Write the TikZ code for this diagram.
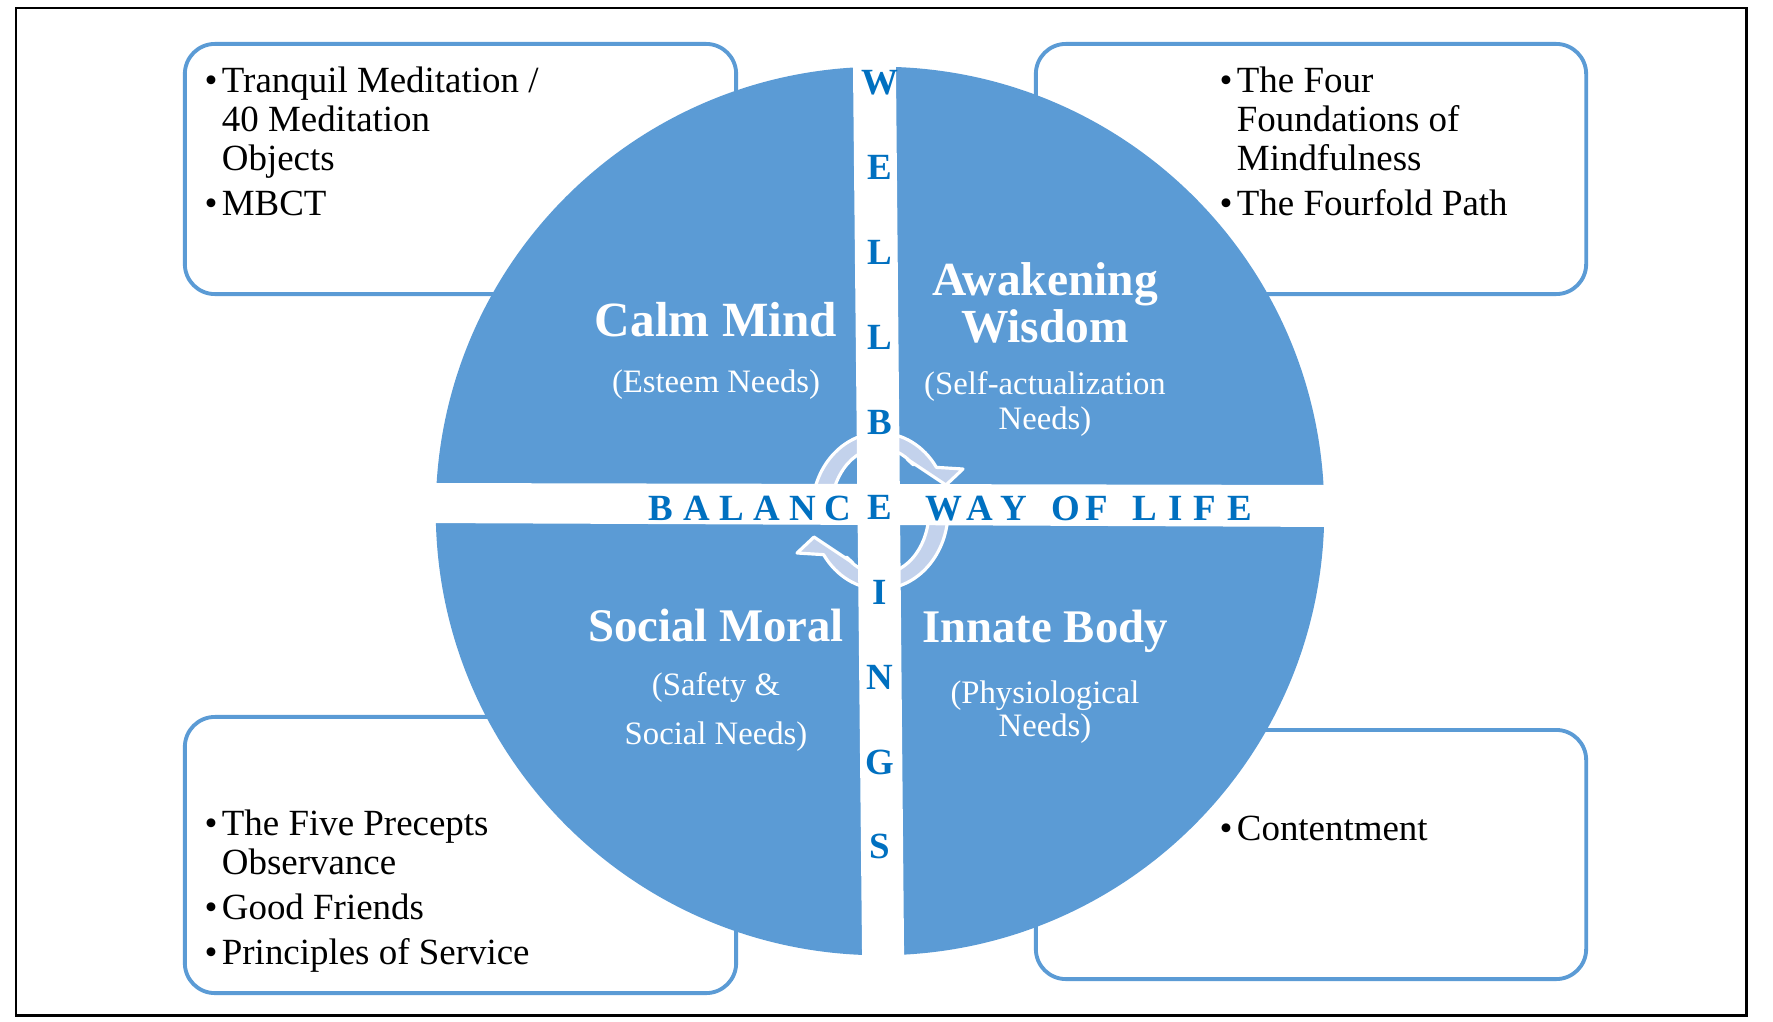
\documentclass[tikz,border=0pt]{standalone}
\usepackage{fontspec}
\setmainfont{Liberation Serif}
\usepackage{tikz}
\usetikzlibrary{calc,positioning}
\definecolor{WheelBlue}{HTML}{5B9BD5}
\definecolor{CrossBlue}{HTML}{0070C0}
\definecolor{ArrowLight}{HTML}{C3D2EC}
\definecolor{FrameBlack}{HTML}{000000}
\tikzset{
    % Outer frame
    frameline/.style={
        draw=FrameBlack,
        line width=0.85pt
    },
    % Rounded list box
    listbox/.style={
        draw=WheelBlue,
        line width=1.1pt,
        rounded corners=0.3cm,
        inner sep=0pt
    },
    % Bullet list text
    listtext/.style={
        anchor=base west,
        inner sep=0pt,
        font=\fontsize{10.5}{11.1}\selectfont
    },
    % Quadrant title
    quadtitle/.style={
        text=white,
        align=center,
        inner sep=0pt,
        font=\fontsize{13.3}{13.5}\selectfont\bfseries
    },
    % Quadrant sub-title
    quadsub/.style={
        text=white,
        align=center,
        inner sep=0pt,
        font=\fontsize{9.3}{10}\selectfont
    },
    % Letters on the white cross
    crossletter/.style={
        text=CrossBlue,
        inner sep=0pt,
        text height=7pt,
        text depth=0pt,
        font=\fontsize{10.5}{12}\selectfont\bfseries
    },
    % Circular block arrow
    cyclearrow/.style={
        fill=ArrowLight,
        draw=white,
        line width=0.9pt,
        line join=round
    }
}
\newcommand{\bul}[1]{\makebox[4.9pt][l]{\textbullet}#1}
\newcommand{\listindent}{\hspace*{4.9pt}}
\newcommand{\listpar}[1]{\parbox[t]{5cm}{#1}}

\begin{document}
\begin{tikzpicture}[x=0.01cm, y=0.01cm]
    \useasboundingbox (0,0) rectangle (1773,-1021);
    \draw[frameline] (16,-8) rectangle (1746,-1015);

    % corner boxes
    \node[listbox, minimum width=5.51cm, minimum height=2.50cm] (tlbox) at (460.5,-169) {};
    \node[listbox, minimum width=5.50cm, minimum height=2.50cm] (trbox) at (1311,-169) {};
    \node[listbox, minimum width=5.51cm, minimum height=2.76cm] (blbox) at (460.5,-855) {};
    \node[listbox, minimum width=5.50cm, minimum height=2.49cm] (brbox) at (1311,-854.5) {};

    \node[listtext] (tltext) at (204,-92) {\listpar{\bul{Tranquil Meditation /}\\
        \listindent 40 Meditation\\\listindent Objects\\[1.7pt]\bul{MBCT}}};
    \node[listtext] (trtext) at (1219,-92) {\listpar{\bul{The Four}\\
        \listindent Foundations of\\\listindent Mindfulness\\[1.7pt]\bul{The Fourfold Path}}};
    \node[listtext] (bltext) at (204,-835) {\listpar{\bul{The Five Precepts}\\
        \listindent Observance\\[1.7pt]\bul{Good Friends}\\[1.7pt]\bul{Principles of Service}}};
    \node[listtext] (brtext) at (1219,-840) {\listpar{\bul{Contentment}}};

    % wheel
    \fill[WheelBlue] (880,-511) circle (4.44cm);

    % cycle arrows
    \foreach \rot in {0,180}{
        \begin{scope}[shift={(880,-511)}, rotate=\rot]
            \draw[cyclearrow] (180:0.68cm and 0.78cm)
                arc[start angle=180, end angle=34, x radius=0.68cm, y radius=0.78cm]
                -- (83,42) -- (66,26) -- (27,52) -- (47:0.49cm and 0.63cm)
                arc[start angle=47, end angle=180, x radius=0.49cm, y radius=0.63cm] -- cycle;
        \end{scope}
    }

    % white cross
    \fill[white] (852.7,-40) -- (895.7,-40) -- (904.3,-980) -- (862.3,-980) -- cycle;
    \fill[white] (420,-483) -- (1340,-485) -- (1340,-527) -- (420,-523) -- cycle;

    \foreach \ch [count=\idx from 0] in {W,E,L,L,B,E,I,N,G,S}
        \node[crossletter] (v\idx) at (880,{-82.5-84.9*\idx}) {\ch};
    \foreach \x/\ch [count=\idx] in {661/B,696.5/A,732/L,767/A,802.5/N,838/C,
            944/W,980/A,1014/Y,1066/O,1097/F,1145/L,1176/I,1205/F,1240/E}
        \node[crossletter] (h\idx) at (\x,-508) {\ch};

    % quadrant labels
    \node[quadtitle, font=\fontsize{14}{14}\selectfont\bfseries] (calm) at (716,-320) {Calm Mind};
    \node[quadsub] (calmsub) at (716,-385) {(Esteem Needs)};
    \node[quadtitle, font=\fontsize{13.5}{13.5}\selectfont\bfseries] (wisdom) at (1045,-303) {Awakening\\Wisdom};
    \node[quadsub] (wisdomsub) at (1045,-404) {(Self-actualization\\Needs)};
    \node[quadtitle] (moral) at (716,-625) {Social Moral};
    \node[quadsub, font=\fontsize{9.3}{13.7}\selectfont] (moralsub) at (716,-712) {(Safety \&\\Social Needs)};
    \node[quadtitle] (body) at (1045,-631) {Innate Body};
    \node[quadsub, font=\fontsize{9.3}{9.4}\selectfont] (bodysub) at (1045,-712) {(Physiological\\Needs)};
\end{tikzpicture}
\end{document}
